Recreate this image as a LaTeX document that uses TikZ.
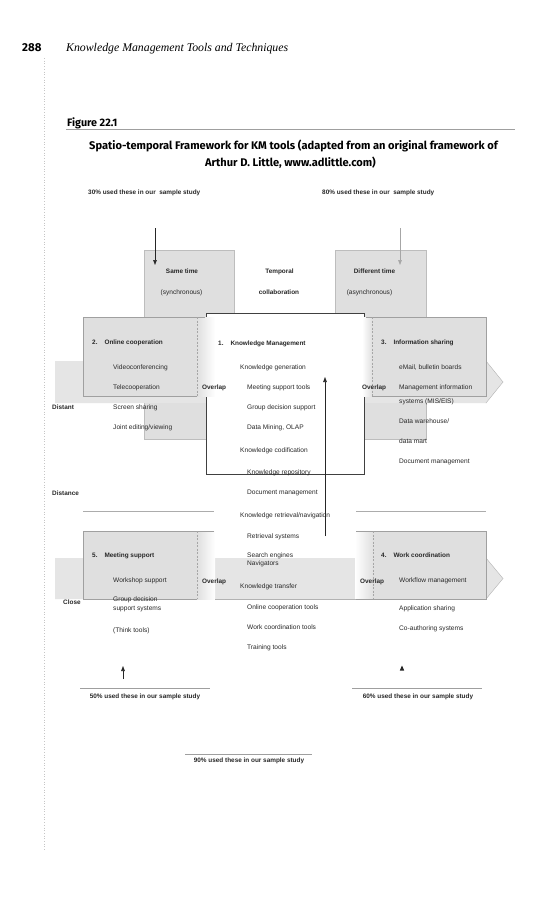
\documentclass[tikz,border=0pt]{standalone}
\usepackage{fontspec}
\setmainfont{Liberation Sans}
\newfontfamily\hdrserif{Liberation Serif}
\newfontfamily\titlesans{Fira Sans}
\usetikzlibrary{arrows.meta}
\definecolor{boxgray}{RGB}{223,223,223}
\definecolor{bandgray}{RGB}{229,229,229}
\definecolor{edgegray}{RGB}{160,160,160}
\definecolor{txtcol}{RGB}{40,40,40}
\tikzset{
  tx/.style={anchor=base west, inner sep=0pt, text=txtcol, font=\fontsize{6.6}{7.5}\selectfont},
  bl/.style={anchor=base west, inner sep=0pt, text=txtcol, font=\fontsize{6.4}{7.5}\selectfont\bfseries},
  blc/.style={bl, anchor=base},
  txc/.style={tx, anchor=base},
  boxedge/.style={draw=edgegray, line width=0.4pt},
  overlapline/.style={draw=gray!70, dashed, dash pattern=on 2pt off 1.5pt, line width=0.4pt},
  rulestyle/.style={draw=gray!75, line width=0.6pt},
  arr/.style={-{Triangle[length=5pt,width=3.6pt]}, line width=0.6pt, draw=black!85}
}
\begin{document}
\begin{tikzpicture}[x=1pt,y=-1pt]
\useasboundingbox (0,0) rectangle (552,900);
\fill[white] (0,0) rectangle (552,900);

% page margin dotted line
\draw[gray!45, dotted, line width=0.7pt] (44,58) -- (44,850);

% header
\node[anchor=base west, inner sep=0pt, font=\titlesans\bfseries\fontsize{11.5}{13}\selectfont] (pagenum) at (22,51) {288};
\node[anchor=base west, inner sep=0pt, font=\hdrserif\itshape\fontsize{11.8}{13}\selectfont] (running) at (66,51) {Knowledge Management Tools and Techniques};

% figure label and title
\node[anchor=base west, inner sep=0pt, font=\titlesans\bfseries\fontsize{10.8}{12}\selectfont] (figlabel) at (67,126) {Figure 22.1};
\draw[rulestyle] (66,129.5) -- (515,129.5);
\node[anchor=base, inner sep=0pt, font=\titlesans\bfseries\fontsize{11.1}{12}\selectfont] (title1) at (293.5,149) {Spatio-temporal Framework for KM tools (adapted from an original framework of};
\node[anchor=base, inner sep=0pt, font=\titlesans\bfseries\fontsize{11.1}{12}\selectfont] (title2) at (290.5,166) {Arthur D. Little, www.adlittle.com)};

% usage labels top
\node[bl] (use30) at (88,194) {30\% used these in our\ \ sample study};
\node[bl] (use80) at (322,194) {80\% used these in our\ \ sample study};

% time columns
\fill[boxgray] (144,250) rectangle (234,439);
\draw[boxedge, draw=edgegray!70] (144,250) rectangle (234,439);
\fill[boxgray] (335,250) rectangle (426,439);
\draw[boxedge, draw=edgegray!70] (335,250) rectangle (426,439);

% top band (distant)
\fill[bandgray] (55,361) -- (486,361) -- (503,382) -- (486,403) -- (55,403) -- cycle;
\draw[boxedge, draw=edgegray!80] (486,361) -- (503,382) -- (486,403);

% knowledge management box
\draw[fill=white, draw=black!75, line width=0.5pt] (206,313) rectangle (364,474);

% online cooperation box
\fill[boxgray] (83,317) rectangle (197,396);
\shade[left color=boxgray, right color=white] (197,317) rectangle (215,396);
\draw[boxedge] (205,317) -- (83,317) -- (83,396) -- (197,396);
\draw[overlapline] (197,317) -- (197,396);

% information sharing box
\shade[left color=white, right color=boxgray] (362,317) rectangle (372,396);
\fill[boxgray] (372,317) rectangle (486,396);
\draw[boxedge] (366,317) -- (486,317) -- (486,396) -- (372,396);
\draw[overlapline] (372,317) -- (372,396);

% distance lines
\draw[rulestyle, draw=gray!65] (83,511) -- (214,511);
\draw[rulestyle, draw=gray!65] (356,511) -- (486,511);

% bottom band (close)
\fill[bandgray] (55,558) -- (486,558) -- (503,578.5) -- (486,599) -- (55,599) -- cycle;
\draw[boxedge, draw=edgegray!80] (486,558) -- (503,578.5) -- (486,599);

% meeting support box
\fill[boxgray] (83,531) rectangle (197,599);
\shade[left color=boxgray, right color=white] (197,531) rectangle (215,599);
\draw[boxedge] (214,531) -- (83,531) -- (83,599) -- (197,599);
\draw[overlapline] (197,531) -- (197,599);

% work coordination box
\shade[left color=white, right color=boxgray] (355,531) rectangle (373,599);
\fill[boxgray] (373,531) rectangle (486,599);
\draw[boxedge] (356,531) -- (486,531) -- (486,599) -- (356,599);
\draw[overlapline] (373,531) -- (373,599);
\draw[boxedge, draw=gray!60] (215,599) -- (356,599);

% column headers
\node[blc] (same) at (182,273) {Same time};
\node[txc] (sync) at (181.5,294.5) {(synchronous)};
\node[blc] (temporal) at (279.5,273) {Temporal};
\node[blc] (collab) at (279,294.5) {collaboration};
\node[blc] (diff) at (374.5,273) {Different time};
\node[txc] (async) at (369.5,294.5) {(asynchronous)};

% box titles
\node[bl] (t2) at (92,344) {2.\hspace{7pt}Online cooperation};
\node[bl] (t1) at (218,345) {1.\hspace{7pt}Knowledge Management};
\node[bl] (t3) at (381,344) {3.\hspace{7pt}Information sharing};
\node[bl] (t5) at (92,557) {5.\hspace{7pt}Meeting support};
\node[bl] (t4) at (381,557) {4.\hspace{7pt}Work coordination};

% axis labels
\node[bl] (distant) at (52,409) {Distant};
\node[bl] (distance) at (52,495) {Distance};
\node[bl] (close) at (63,604) {Close};
\node[bl] (ov1) at (202,389) {Overlap};
\node[bl] (ov2) at (362,389) {Overlap};
\node[bl] (ov3) at (202,583) {Overlap};
\node[bl] (ov4) at (360,583) {Overlap};

% online cooperation items
\node[tx] (oc1) at (113,369) {Videoconferencing};
\node[tx] (oc2) at (113,389) {Telecooperation};
\node[tx] (oc3) at (113,409) {Screen sharing};
\node[tx] (oc4) at (113,429) {Joint editing/viewing};

% knowledge management items
\node[tx] (km1) at (240,369) {Knowledge generation};
\node[tx] (km2) at (247,389) {Meeting support tools};
\node[tx] (km3) at (247,409) {Group decision support};
\node[tx] (km4) at (247,429) {Data Mining, OLAP};
\node[tx] (km5) at (240,452) {Knowledge codification};
\node[tx] (km6) at (247,474) {Knowledge repository};
\node[tx] (km7) at (247,494) {Document management};
\node[tx] (km8) at (240,517) {Knowledge retrieval/navigation};
\node[tx] (km9) at (247,538) {Retrieval systems};
\node[tx] (km10) at (247,557) {Search engines};
\node[tx] (km11) at (247,565) {Navigators};
\node[tx] (km12) at (240,588) {Knowledge transfer};
\node[tx] (km13) at (247,609) {Online cooperation tools};
\node[tx] (km14) at (247,629) {Work coordination tools};
\node[tx] (km15) at (247,649) {Training tools};

% information sharing items
\node[tx] (is1) at (399,369) {eMail, bulletin boards};
\node[tx] (is2) at (399,389) {Management information};
\node[tx] (is3) at (399,403) {systems (MIS/EIS)};
\node[tx] (is4) at (399,423) {Data warehouse/};
\node[tx] (is5) at (399,443) {data mart};
\node[tx] (is6) at (399,463) {Document management};

% meeting support items
\node[tx] (ms1) at (113,582) {Workshop support};
\node[tx] (ms2) at (113,601) {Group decision};
\node[tx] (ms3) at (113,610) {support systems};
\node[tx] (ms4) at (113,632) {(Think tools)};

% work coordination items
\node[tx] (wc1) at (399,582) {Workflow management};
\node[tx] (wc2) at (399,610) {Application sharing};
\node[tx] (wc3) at (399,630) {Co-authoring systems};

% bottom usage labels
\draw[rulestyle] (80,688) -- (210,688);
\draw[rulestyle] (352,688) -- (482,688);
\draw[rulestyle] (185,754) -- (312,754);
\node[blc] (use50) at (145,698.5) {50\% used these in our sample study};
\node[blc] (use60) at (418,698.5) {60\% used these in our sample study};
\node[blc] (use90) at (249,762.5) {90\% used these in our sample study};

% arrows
\coordinate (a1s) at (155,228);
\coordinate (a1e) at (155,265);
\coordinate (a2s) at (400,228);
\coordinate (a2e) at (400,265);
\coordinate (a3s) at (325,536);
\coordinate (a3e) at (325,377);
\coordinate (a4s) at (123,679);
\coordinate (a4e) at (123,666);
\draw[arr] (a1s) -- (a1e);
\draw[arr, draw=gray!70] (a2s) -- (a2e);
\draw[arr] (a3s) -- (a3e);
\draw[arr] (a4s) -- (a4e);
\fill[black!85] (402,665.5) -- (404.2,670.5) -- (399.8,670.5) -- cycle;
\end{tikzpicture}
\end{document}
